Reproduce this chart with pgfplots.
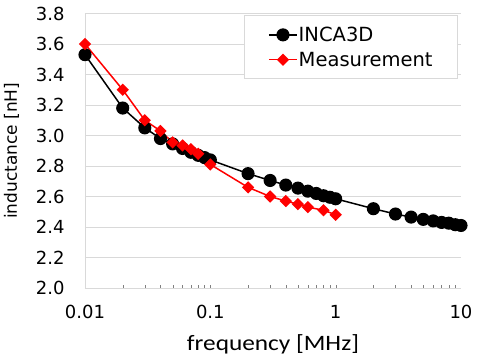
\documentclass[border=0pt]{standalone}
\usepackage{fontspec}
\setmainfont{DejaVu Sans}
\newfontfamily\labelfont{Carlito}[FakeStretch=1.15]
\usepackage{pgfplots}
\pgfplotsset{compat=1.18}
\definecolor{gridgray}{RGB}{217,217,217}
\definecolor{mred}{RGB}{255,0,0}

\begin{document}
\begin{tikzpicture}
\begin{axis}[
  scale only axis,
  width=376bp, height=274.5bp,
  xmode=log,
  xmin=0.01, xmax=10,
  ymin=2.0, ymax=3.8,
  ytick={2.0,2.2,...,3.8},
  xtick={0.01,0.1,1,10},
  xticklabels={0.01,0.1,1,10},
  minor xtick={},
  /pgf/number format/assume math mode=true,
  yticklabel={\pgfmathprintnumber[fixed,fixed zerofill,precision=1]{\tick}},
  ymajorgrids,
  grid style={gridgray, line width=0.8bp},
  axis x line*=bottom,
  axis y line*=left,
  axis line style={gridgray, line width=0.8bp, -},
  major tick length=0pt,
  tick label style={font=\fontsize{18bp}{21bp}\selectfont, black},
  yticklabel style={xshift=-17bp},
  xticklabel style={yshift=-14bp},
  xlabel={\labelfont\fontsize{22bp}{26bp}\selectfont frequency [MHz]},
  ylabel={\fontsize{17bp}{20bp}\selectfont inductance [nH]},
  xlabel style={at={(axis description cs:0.5,0)}, anchor=base, yshift=-62bp},
  ylabel style={at={(axis description cs:0,0.5)}, anchor=base, rotate=0, xshift=0bp, yshift=68bp},
  legend cell align=left,
  legend style={
    at={(axis description cs:1,1)}, anchor=north east,
    xshift=-3bp, yshift=-2bp,
    draw=gridgray, fill=white, line width=0.8bp,
    font=\fontsize{19.5bp}{23bp}\selectfont,
    inner xsep=24bp, inner ysep=9bp,
    row sep=5bp,
    nodes={inner xsep=1bp},
  },
  legend image code/.code={
    \draw[mark repeat=2, mark phase=2, #1] plot coordinates {(0bp,0bp) (14bp,0bp) (28bp,0bp)};
  },
]
% INCA3D simulation
\addplot[black, line width=1.5bp, mark=*, mark size=5.8bp] coordinates {
  (0.01,3.53) (0.02,3.18) (0.03,3.05) (0.04,2.98) (0.05,2.945)
  (0.06,2.915) (0.07,2.89) (0.08,2.87) (0.09,2.855) (0.1,2.84)
  (0.2,2.75) (0.3,2.705) (0.4,2.675) (0.5,2.655) (0.6,2.635)
  (0.7,2.62) (0.8,2.605) (0.9,2.595) (1,2.585)
  (2,2.52) (3,2.485) (4,2.465) (5,2.45) (6,2.44) (7,2.43)
  (8,2.425) (9,2.415) (10,2.41)
};
\addlegendentry{INCA3D}
% measured values
\addplot[mred, line width=1.5bp, mark=square*, mark size=3.6bp, mark options={rotate=45}] coordinates {
  (0.01,3.60) (0.02,3.30) (0.03,3.10) (0.04,3.03) (0.05,2.955)
  (0.06,2.935) (0.07,2.91) (0.08,2.88) (0.1,2.81)
  (0.2,2.66) (0.3,2.60) (0.4,2.57) (0.5,2.55) (0.6,2.53)
  (0.8,2.51) (1,2.48)
};
\addlegendentry{Measurement}
\end{axis}
\pgfresetboundingbox
\useasboundingbox (-85bp,-68bp) rectangle (392bp,288bp);
\end{tikzpicture}
\end{document}
